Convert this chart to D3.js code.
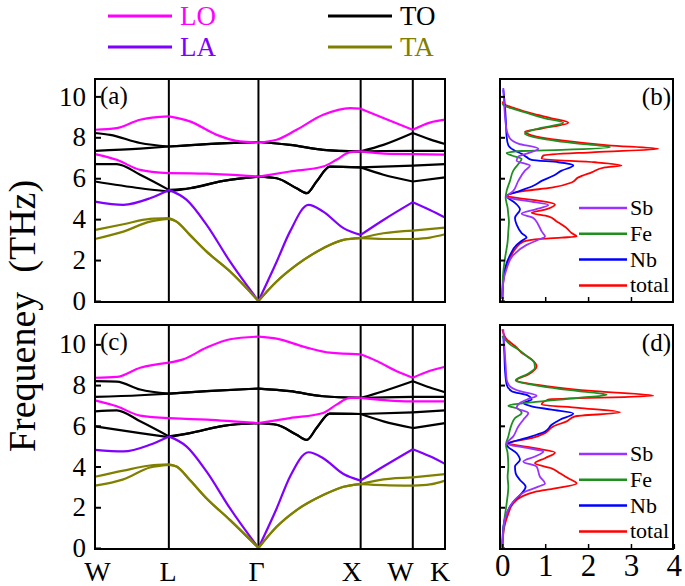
<!DOCTYPE html>
<html><head><meta charset="utf-8">
<script src="https://cdn.jsdelivr.net/npm/d3@7/dist/d3.min.js"></script>
<style>body{margin:0;background:#fff}svg{display:block}
svg text.ser{font-family:"Liberation Serif" !important}</style>
</head><body>
<svg id="c" width="685" height="586" font-family="Liberation Serif"></svg>
<script>
// ---- axis / label data ----
const kLabels = ["W","L","Γ","X","W","K"];
const kSym = [0,21.1,46.7,75.9,90.8,100];
const kLabelPos = [0.7,20.9,46.2,73.4,87.3,98.6];
const freqTicks = [0,2,4,6,8,10];
const dosTicks = [0,1,2,3,4];
const modeNames = ["LO","TO","LA","TA"];
const elemNames = ["Sb","Fe","Nb","total"];

// ---- panel (a) branches: [k, frequency THz] ----
const aLO1 = [[0,8.37],[6.2,8.45],[12.9,8.86],[21.1,9.02],[27.1,8.78],[34.8,8.12],[41.4,7.8],[46.7,7.75],[51.9,7.88],[57.6,8.37],[65.2,9.1],[72.9,9.43],[75.9,9.4],[82.4,8.94],[90.8,8.37],[95.7,8.72],[100,8.86]];
const aLO2 = [[0,7.18],[6.2,6.9],[12.9,6.41],[21.1,6.25],[31.9,6.22],[46.7,6.08],[55.7,6.33],[65.2,6.57],[69,6.9],[72.9,7.28],[75.9,7.31],[84.3,7.19],[90.8,7.18],[100,7.15]];
const aTO1 = [[0,8.21],[4.3,8.12],[12.9,7.72],[21.1,7.55],[31.9,7.67],[46.7,7.77],[55.7,7.63],[65.2,7.39],[75.9,7.31],[82.4,7.63],[90.8,8.21],[95.7,7.9],[100,7.67]];
const aTO2 = [[0,7.34],[12.9,7.45],[21.1,7.55],[31.9,7.67],[46.7,7.77],[55.7,7.63],[65.2,7.39],[75.9,7.31],[82.4,7.33],[90.8,7.34],[100,7.34]];
const aTO3 = [[0,6.69],[6.2,6.69],[12.9,6.17],[21.1,5.43],[27.1,5.51],[36.7,5.87],[46.7,6.08],[51.9,6.0],[57.6,5.51],[60.5,5.27],[63.3,5.84],[67.1,6.57],[75.9,6.53],[90.8,6.62],[100,6.69]];
const aTO4 = [[0,5.84],[12.9,5.51],[21.1,5.35],[27.1,5.51],[36.7,5.87],[46.7,6.08],[51.9,6.0],[57.6,5.51],[60.5,5.27],[63.3,5.84],[67.1,6.57],[75.9,6.53],[82.4,6.17],[90.8,5.84],[100,6.04]];
const aLA = [[0,4.86],[8.1,4.7],[15.7,5.02],[21.1,5.43],[26.2,4.94],[31.9,3.72],[38.6,1.92],[46.7,0],[51.9,1.92],[55.7,3.39],[61,4.7],[65.2,4.37],[71,3.56],[75.9,3.23],[82.4,3.96],[90.8,4.83],[95.7,4.45],[100,4.08]];
const aTA1 = [[0,3.47],[8.1,3.75],[15.7,4.01],[21.1,4.05],[23.3,3.88],[27.1,3.23],[31.9,2.41],[38.6,1.44],[46.7,0],[51.9,0.95],[57.6,1.76],[65.2,2.58],[71,2.99],[75.9,3.07],[82.4,3.31],[90.8,3.44],[100,3.59]];
const aTA2 = [[0,3.03],[8.1,3.39],[15.7,3.88],[21.1,4.01],[23.3,3.88],[27.1,3.23],[31.9,2.41],[38.6,1.44],[46.7,0],[51.9,0.95],[57.6,1.76],[65.2,2.58],[71,2.99],[75.9,3.07],[82.4,3.03],[90.8,3.03],[95.7,3.1],[100,3.26]];

// ---- panel (c) branches ----
const cLO1 = [[0,8.36],[6.2,8.4],[12.9,8.85],[21.1,9.1],[25.2,9.26],[31.9,9.84],[38.6,10.25],[46.7,10.38],[51.9,10.28],[60.5,9.84],[67.1,9.59],[75.9,9.51],[80.5,9.18],[86.2,8.68],[90.8,8.36],[95.7,8.7],[100,8.9]];
const cLO2 = [[0,7.25],[6.2,6.96],[12.9,6.5],[21.1,6.38],[31.9,6.3],[46.7,6.13],[55.7,6.38],[65.2,6.63],[69,7.04],[72.9,7.37],[75.9,7.37],[84.3,7.24],[90.8,7.2],[100,7.2]];
const cTO1 = [[0,8.19],[6.2,8.17],[12.9,7.78],[21.1,7.58],[31.9,7.7],[46.7,7.83],[55.7,7.7],[65.2,7.45],[75.9,7.37],[82.4,7.7],[90.8,8.19],[95.7,7.88],[100,7.65]];
const cTO2 = [[0,7.42],[12.9,7.5],[21.1,7.58],[31.9,7.7],[46.7,7.83],[55.7,7.7],[65.2,7.45],[75.9,7.37],[82.4,7.4],[90.8,7.42],[100,7.42]];
const cTO3 = [[0,6.71],[6.2,6.76],[12.9,6.22],[21.1,5.48],[27.1,5.64],[36.7,6.0],[46.7,6.13],[51.9,6.05],[57.6,5.56],[60.5,5.31],[63.3,5.89],[67.1,6.6],[75.9,6.58],[90.8,6.66],[100,6.76]];
const cTO4 = [[0,5.97],[12.9,5.64],[21.1,5.44],[27.1,5.64],[36.7,6.0],[46.7,6.13],[51.9,6.05],[57.6,5.56],[60.5,5.31],[63.3,5.89],[67.1,6.6],[75.9,6.58],[82.4,6.22],[90.8,5.89],[100,6.13]];
const cLA = [[0,4.82],[8.1,4.74],[15.7,5.07],[21.1,5.48],[26.2,4.98],[31.9,3.75],[38.6,1.94],[46.7,0],[51.9,1.94],[55.7,3.5],[61,4.7],[65.2,4.41],[71,3.63],[75.9,3.31],[82.4,4.0],[90.8,4.85],[95.7,4.5],[100,4.13]];
const cTA1 = [[0,3.5],[8.1,3.8],[15.7,4.05],[21.1,4.11],[23.3,4.0],[27.1,3.34],[31.9,2.43],[38.6,1.37],[46.7,0],[51.9,1.04],[57.6,1.86],[65.2,2.6],[71,3.01],[75.9,3.14],[82.4,3.37],[90.8,3.47],[100,3.63]];
const cTA2 = [[0,3.06],[8.1,3.37],[15.7,3.95],[21.1,4.08],[23.3,4.0],[27.1,3.34],[31.9,2.43],[38.6,1.37],[46.7,0],[51.9,1.04],[57.6,1.86],[65.2,2.6],[71,3.01],[75.9,3.14],[82.4,3.09],[90.8,3.06],[95.7,3.12],[100,3.31]];

// ---- phonon DOS (b): [frequency, DOS] ----
const bTotal = [[0.1,0],[0.92,0.023],[1.58,0.078],[2.08,0.179],[2.57,0.311],[2.9,0.49],[3.04,0.917],[3.1,1.383],[3.15,1.733],[3.32,1.616],[3.56,1.5],[3.89,1.267],[4.14,1.072],[4.31,0.684],[4.47,0.995],[4.72,1.228],[4.88,0.917],[5.05,0.295],[5.13,0.101],[5.38,0.528],[5.54,1.15],[5.79,1.616],[6.04,1.772],[6.29,2.082],[6.53,2.393],[6.62,2.782],[6.78,2.16],[6.95,0.917],[7.11,0.956],[7.28,2.16],[7.44,3.636],[7.61,2.471],[7.85,1.383],[8.1,0.684],[8.27,0.528],[8.43,0.917],[8.71,1.538],[8.93,1.15],[9.17,0.684],[9.42,0.295],[9.59,0.062],[9.75,0]];
const bFe = [[0.1,0],[1.25,0.016],[2.08,0.062],[2.9,0.124],[3.4,0.14],[3.89,0.155],[4.22,0.14],[4.55,0.124],[5.05,0.078],[5.38,0.101],[5.87,0.179],[6.37,0.256],[6.7,0.373],[6.95,0.451],[7.11,0.218],[7.23,0.101],[7.33,0.451],[7.39,1.383],[7.52,2.51],[7.69,1.772],[7.94,0.917],[8.18,0.528],[8.43,0.839],[8.71,1.422],[8.93,0.995],[9.17,0.606],[9.37,0.295],[9.54,0.047],[9.67,0]];
const bNb = [[0.1,0],[0.92,0.016],[1.58,0.062],[2.24,0.179],[2.74,0.334],[2.99,0.49],[3.1,0.567],[3.32,0.451],[3.73,0.334],[4.06,0.295],[4.47,0.412],[4.8,0.295],[5.13,0.101],[5.38,0.412],[5.63,0.723],[5.87,0.917],[6.12,1.189],[6.37,1.383],[6.62,1.655],[6.78,1.305],[6.9,0.684],[7.03,0.567],[7.19,0.451],[7.39,0.256],[7.61,0.14],[8.02,0.101],[8.68,0.085],[9.5,0.062],[10.33,0.023]];
const bSb = [[0.1,0],[0.92,0.023],[1.58,0.101],[2.24,0.256],[2.74,0.567],[2.99,0.839],[3.15,0.995],[3.4,0.917],[3.73,0.839],[4.06,0.723],[4.26,0.451],[4.47,0.761],[4.69,1.072],[4.88,0.606],[5.08,0.101],[5.38,0.256],[5.87,0.373],[6.37,0.528],[6.62,0.645],[6.86,0.334],[7.06,0.373],[7.23,0.606],[7.44,0.839],[7.69,0.373],[7.94,0.179],[8.35,0.101],[8.68,0.078],[9.5,0.047],[10.41,0.023]];

// ---- phonon DOS (d) ----
const dTotal = [[0.05,0],[1.04,0.047],[1.69,0.14],[2.19,0.256],[2.52,0.451],[2.76,0.761],[2.93,1.228],[3.17,1.733],[3.42,1.538],[3.67,1.344],[3.91,1.15],[4.16,0.761],[4.41,0.995],[4.69,1.228],[4.9,0.761],[5.15,0.14],[5.39,0.684],[5.64,0.995],[5.97,1.189],[6.22,1.5],[6.46,1.694],[6.66,2.743],[6.88,1.772],[7.04,0.917],[7.29,1.072],[7.48,3.52],[7.7,2.16],[7.94,1.072],[8.24,0.334],[8.52,0.606],[8.93,0.8],[9.26,0.684],[9.59,0.451],[9.92,0.295],[10.25,0.101],[10.74,0]];
const dFe = [[0.05,0],[1.37,0.047],[2.19,0.101],[3.01,0.14],[3.5,0.124],[4.0,0.14],[4.65,0.124],[5.07,0.085],[5.48,0.14],[5.97,0.202],[6.38,0.295],[6.63,0.451],[6.83,0.373],[6.99,0.14],[7.15,0.684],[7.37,1.772],[7.53,2.432],[7.7,1.772],[7.94,0.917],[8.24,0.311],[8.52,0.567],[8.85,0.761],[9.1,0.746],[9.42,0.567],[9.75,0.373],[10.0,0.179],[10.25,0.062],[10.41,0]];
const dNb = [[0.05,0],[1.04,0.023],[1.69,0.101],[2.27,0.256],[2.68,0.451],[3.01,0.544],[3.34,0.412],[3.67,0.311],[4.0,0.295],[4.33,0.412],[4.65,0.334],[5.07,0.101],[5.48,0.684],[5.72,0.995],[6.05,1.15],[6.3,1.344],[6.6,1.655],[6.79,1.15],[6.96,0.684],[7.12,0.49],[7.29,0.684],[7.48,0.606],[7.7,0.218],[8.03,0.101],[8.77,0.062],[9.59,0.047],[10.41,0.023]];
const dSb = [[0.05,0],[1.04,0.031],[1.69,0.101],[2.27,0.256],[2.76,0.528],[3.01,0.839],[3.17,0.995],[3.5,0.878],[4.0,0.8],[4.24,0.49],[4.49,0.761],[4.74,0.956],[4.9,0.606],[5.12,0.101],[5.48,0.256],[5.97,0.373],[6.3,0.49],[6.63,0.606],[6.88,0.334],[7.12,0.412],[7.32,0.606],[7.48,0.8],[7.7,0.412],[7.94,0.179],[8.27,0.101],[8.93,0.078],[9.92,0.047],[10.74,0.023]];

// ---- styles ----
const modeColor = {LO:"#ff00ff", TO:"#000000", LA:"#7f00ff", TA:"#808000"};
const elemColor = {Sb:"#9933ff", Fe:"#1f8f1f", Nb:"#0000ff", total:"#ff0000"};

const svg = d3.select("#c");
const bandX = d3.scaleLinear().domain([0,100]).range([95,445]);
const dosX = d3.scaleLinear().domain([-0.054,3.98]).range([500,673]);
const yA = d3.scaleLinear().domain([-0.05,10.85]).range([302,79]);
const yC = d3.scaleLinear().domain([-0.05,10.95]).range([549,325]);

function drawBand(y, branches, label, showX){
  const top = y.range()[1], bot = y.range()[0];
  const g = svg.append("g");
  kSym.slice(1,-1).forEach(k=>{
    g.append("line").attr("x1",bandX(k)).attr("x2",bandX(k)).attr("y1",top).attr("y2",bot)
     .attr("stroke","#000").attr("stroke-width",2);
  });
  const line = d3.line().x(p=>bandX(p[0])).y(p=>y(p[1])).curve(d3.curveMonotoneX);
  ["TO","LO","LA","TA"].forEach(m=>{
    branches.filter(b=>b.mode===m).forEach(b=>{
      for(let i=0;i<kSym.length-1;i++){
        const pts = b.data.filter(p=>p[0]>=kSym[i]-1e-6 && p[0]<=kSym[i+1]+1e-6);
        if(pts.length<2) continue;
        g.append("path").attr("d",line(pts)).attr("fill","none")
         .attr("stroke",modeColor[m]).attr("stroke-width",2.2);
      }
    });
  });
  g.append("rect").attr("x",95).attr("y",top).attr("width",350).attr("height",bot-top)
   .attr("fill","none").attr("stroke","#000").attr("stroke-width",2);
  const ax = g.append("g").attr("transform","translate(95,0)")
    .call(d3.axisLeft(y).tickValues(freqTicks).tickSize(-6).tickPadding(9));
  ax.select(".domain").remove();
  ax.selectAll(".tick line").attr("stroke-width",2);
  ax.selectAll("text").attr("font-size",27).attr("fill","#000");
  g.append("text").attr("x",100).attr("y",top+25).attr("font-size",25).text(label);
  if(showX){
    kLabels.forEach((t,i)=>{
      g.append("text").attr("x",bandX(kLabelPos[i])).attr("y",581).attr("text-anchor","middle")
       .attr("font-size",28).text(t);
    });
  }
}

function drawDos(y, series, label, showX){
  const top = y.range()[1], bot = y.range()[0];
  const g = svg.append("g");
  const line = d3.line().x(p=>dosX(p[1])).y(p=>y(p[0])).curve(d3.curveMonotoneY);
  ["total","Nb","Fe","Sb"].forEach(e=>{
    g.append("path").attr("d",line(series[e])).attr("fill","none")
     .attr("stroke",elemColor[e]).attr("stroke-width",1.8);
  });
  g.append("rect").attr("x",500).attr("y",top).attr("width",173).attr("height",bot-top)
   .attr("fill","none").attr("stroke","#000").attr("stroke-width",2);
  const ay = g.append("g").attr("transform","translate(500,0)")
    .call(d3.axisLeft(y).tickValues(freqTicks).tickSize(-5).tickFormat(""));
  ay.select(".domain").remove();
  ay.selectAll(".tick line").attr("stroke-width",2);
  const axb = g.append("g").attr("transform",`translate(0,${bot})`)
    .call(d3.axisBottom(dosX).tickValues(showX?dosTicks:dosTicks.slice(0,4)).tickSize(-5).tickPadding(5)
      .tickFormat(showX? d3.format("d") : ""));
  axb.select(".domain").remove();
  axb.selectAll(".tick line").attr("stroke-width",1.5);
  axb.selectAll("text").attr("font-size",31).attr("fill","#000");
  g.append("text").attr("x",671).attr("y",top+26).attr("text-anchor","end").attr("font-size",25).text(label);
  elemNames.forEach((e,i)=>{
    const yy = top + 129 + i*25.8;
    g.append("line").attr("x1",579).attr("x2",627).attr("y1",yy).attr("y2",yy)
     .attr("stroke",elemColor[e]).attr("stroke-width",2.5);
    g.append("text").attr("x",630).attr("y",yy+7).attr("font-size",22).text(e);
  });
}

drawBand(yA, [
  {mode:"LO",data:aLO1},{mode:"LO",data:aLO2},
  {mode:"TO",data:aTO1},{mode:"TO",data:aTO2},{mode:"TO",data:aTO3},{mode:"TO",data:aTO4},
  {mode:"LA",data:aLA},{mode:"TA",data:aTA1},{mode:"TA",data:aTA2}], "(a)", false);
drawBand(yC, [
  {mode:"LO",data:cLO1},{mode:"LO",data:cLO2},
  {mode:"TO",data:cTO1},{mode:"TO",data:cTO2},{mode:"TO",data:cTO3},{mode:"TO",data:cTO4},
  {mode:"LA",data:cLA},{mode:"TA",data:cTA1},{mode:"TA",data:cTA2}], "(c)", true);
drawDos(yA, {total:bTotal, Fe:bFe, Nb:bNb, Sb:bSb}, "(b)", false);
drawDos(yC, {total:dTotal, Fe:dFe, Nb:dNb, Sb:dSb}, "(d)", true);

// top legend
const legPos = {LO:[108,16], TO:[328,16], LA:[108,47], TA:[328,47]};
modeNames.forEach(m=>{
  const [lx,ly] = legPos[m];
  svg.append("line").attr("x1",lx).attr("x2",lx+64).attr("y1",ly).attr("y2",ly)
    .attr("stroke",modeColor[m]).attr("stroke-width",3);
  svg.append("text").attr("x",lx+72).attr("y",ly+9).attr("font-size",27)
    .attr("fill",modeColor[m]).text(m);
});

// y title
svg.append("text").attr("transform","translate(35,316) rotate(-90)").attr("text-anchor","middle")
  .attr("font-size",38).attr("xml:space","preserve").text("Frequeney  (THz)");

svg.selectAll("g").attr("font-family","Liberation Serif");
svg.selectAll("text").classed("ser",true).attr("font-family","Liberation Serif");
</script>
</body></html>
